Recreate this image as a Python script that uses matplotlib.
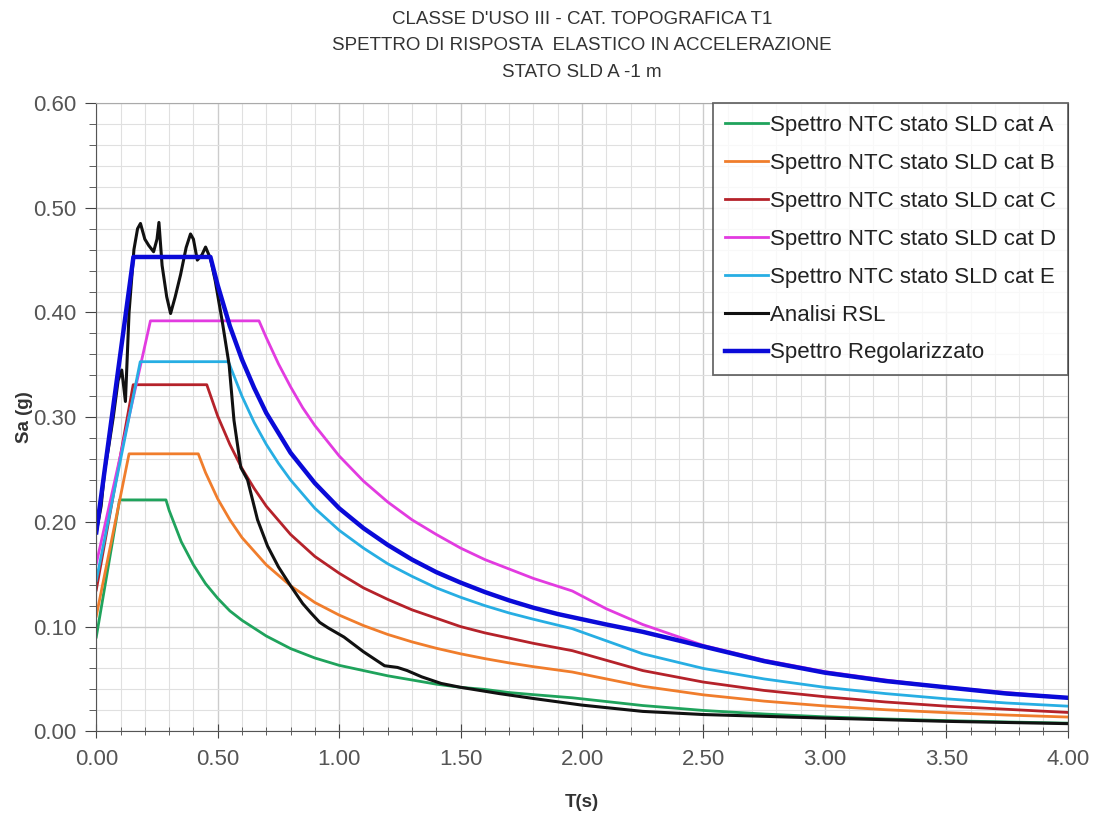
import matplotlib
matplotlib.use("Agg")
from matplotlib import pyplot as plt
from matplotlib.ticker import MultipleLocator, FormatStrFormatter

plt.rcParams['font.family'] = ['Liberation Sans', 'DejaVu Sans']

# spettro NTC cat A
t_a = [0, 0.096, 0.287, 0.30, 0.35, 0.40, 0.45, 0.50, 0.55, 0.60, 0.70, 0.80, 0.90, 1.00, 1.10, 1.20, 1.30, 1.40,
       1.50, 1.60, 1.70, 1.80, 1.96, 2.25, 2.50, 2.75, 3.00, 3.25, 3.50, 3.75, 4.00]
sa_a = [0.090, 0.221, 0.221, 0.211, 0.181, 0.159, 0.141, 0.127, 0.115, 0.106, 0.091, 0.079, 0.070, 0.063, 0.058, 0.053,
        0.049, 0.045, 0.042, 0.040, 0.037, 0.035, 0.032, 0.0246, 0.0199, 0.0165, 0.0138, 0.0118, 0.0102, 0.0089, 0.0078]

# cat B
t_b = [0, 0.135, 0.42, 0.45, 0.50, 0.55, 0.60, 0.70, 0.80, 0.90, 1.00, 1.10, 1.20, 1.30, 1.40, 1.50, 1.60, 1.70, 1.80,
       1.96, 2.25, 2.50, 2.75, 3.00, 3.25, 3.50, 3.75, 4.00]
sa_b = [0.110, 0.265, 0.265, 0.247, 0.222, 0.202, 0.185, 0.159, 0.139, 0.123, 0.111, 0.101, 0.0925, 0.0854, 0.0793,
        0.074, 0.0694, 0.0653, 0.0617, 0.0566, 0.043, 0.0348, 0.0288, 0.0242, 0.0206, 0.0178, 0.0155, 0.0136]

# cat C
t_c = [0, 0.152, 0.455, 0.50, 0.55, 0.60, 0.65, 0.70, 0.80, 0.90, 1.00, 1.10, 1.20, 1.30, 1.40, 1.50, 1.60, 1.70, 1.80,
       1.96, 2.25, 2.50, 2.75, 3.00, 3.25, 3.50, 3.75, 4.00]
sa_c = [0.135, 0.331, 0.331, 0.301, 0.274, 0.251, 0.232, 0.215, 0.188, 0.167, 0.151, 0.137, 0.126, 0.116, 0.108, 0.100,
        0.094, 0.089, 0.084, 0.077, 0.058, 0.047, 0.039, 0.033, 0.028, 0.024, 0.021, 0.018]

# cat D
t_d = [0, 0.223, 0.67, 0.70, 0.75, 0.80, 0.85, 0.90, 1.00, 1.10, 1.20, 1.30, 1.40, 1.50, 1.60, 1.70, 1.80, 1.96, 2.10,
       2.25, 2.50, 2.75, 3.00, 3.25, 3.50, 3.75, 4.00]
sa_d = [0.160, 0.392, 0.392, 0.376, 0.351, 0.329, 0.309, 0.292, 0.263, 0.239, 0.219, 0.202, 0.188, 0.175, 0.164, 0.155,
        0.146, 0.134, 0.117, 0.102, 0.082, 0.068, 0.057, 0.049, 0.042, 0.037, 0.032]

# cat E
t_e = [0, 0.181, 0.544, 0.60, 0.65, 0.70, 0.75, 0.80, 0.90, 1.00, 1.10, 1.20, 1.30, 1.40, 1.50, 1.60, 1.70, 1.80, 1.96,
       2.25, 2.50, 2.75, 3.00, 3.25, 3.50, 3.75, 4.00]
sa_e = [0.144, 0.353, 0.353, 0.320, 0.295, 0.274, 0.256, 0.240, 0.213, 0.192, 0.175, 0.160, 0.148, 0.137, 0.128, 0.120,
        0.113, 0.107, 0.098, 0.074, 0.060, 0.050, 0.042, 0.036, 0.031, 0.027, 0.024]

# analisi RSL
t_rsl = [0, 0.02, 0.035, 0.05, 0.07, 0.09, 0.105, 0.12, 0.135, 0.155, 0.17, 0.182, 0.20, 0.216, 0.236, 0.25, 0.258,
         0.271, 0.29, 0.306, 0.325, 0.347, 0.37, 0.388, 0.40, 0.416, 0.435, 0.45, 0.471, 0.49, 0.519, 0.547, 0.567,
         0.595, 0.623, 0.664, 0.705, 0.75, 0.80, 0.85, 0.884, 0.92, 0.953, 1.02, 1.10, 1.187, 1.24, 1.28, 1.34, 1.42,
         1.50, 1.66, 1.81, 2.00, 2.25, 2.50, 3.00, 3.50, 4.00]
sa_rsl = [0.19, 0.215, 0.25, 0.27, 0.30, 0.335, 0.345, 0.315, 0.40, 0.46, 0.48, 0.485, 0.47, 0.464, 0.458, 0.47, 0.486,
          0.445, 0.415, 0.399, 0.415, 0.436, 0.462, 0.475, 0.47, 0.45, 0.455, 0.4625, 0.451, 0.43, 0.391, 0.35, 0.297,
          0.252, 0.24, 0.202, 0.177, 0.157, 0.139, 0.122, 0.113, 0.104, 0.099, 0.09, 0.076, 0.0626, 0.061, 0.058,
          0.052, 0.0457, 0.042, 0.036, 0.031, 0.025, 0.019, 0.016, 0.0126, 0.0095, 0.0073]

# spettro regolarizzato
t_reg = [0, 0.153, 0.47, 0.50, 0.55, 0.60, 0.65, 0.70, 0.80, 0.90, 1.00, 1.10, 1.20, 1.30, 1.40, 1.50, 1.60, 1.70, 1.80,
         1.90, 2.00, 2.10, 2.25, 2.50, 2.75, 3.00, 3.25, 3.50, 3.75, 4.00]
sa_reg = [0.19, 0.453, 0.453, 0.426, 0.387, 0.355, 0.328, 0.304, 0.266, 0.237, 0.213, 0.194, 0.178, 0.164, 0.152, 0.142,
          0.133, 0.125, 0.118, 0.112, 0.107, 0.102, 0.095, 0.081, 0.067, 0.056, 0.048, 0.042, 0.036, 0.032]

titolo = "CLASSE D'USO III - CAT. TOPOGRAFICA T1\nSPETTRO DI RISPOSTA  ELASTICO IN ACCELERAZIONE\nSTATO SLD A -1 m"

fig = plt.figure(figsize=(10.94, 8.18), dpi=100)
ax = fig.add_axes([0.088, 0.106, 0.888, 0.768])

ax.plot(t_a, sa_a, color='#1fa35c', lw=2, label='Spettro NTC stato SLD cat A')
ax.plot(t_b, sa_b, color='#f07d2c', lw=2, label='Spettro NTC stato SLD cat B')
ax.plot(t_c, sa_c, color='#b5222a', lw=2, label='Spettro NTC stato SLD cat C')
ax.plot(t_d, sa_d, color='#e23be0', lw=2, label='Spettro NTC stato SLD cat D')
ax.plot(t_e, sa_e, color='#27aee3', lw=2, label='Spettro NTC stato SLD cat E')
ax.plot(t_rsl, sa_rsl, color='#111111', lw=2.2, label='Analisi RSL')
ax.plot(t_reg, sa_reg, color='#0a0ad8', lw=3.2, label='Spettro Regolarizzato')

ax.set_xlim(0, 4)
ax.set_ylim(0, 0.6)
ax.xaxis.set_major_locator(MultipleLocator(0.5))
ax.xaxis.set_minor_locator(MultipleLocator(0.1))
ax.yaxis.set_major_locator(MultipleLocator(0.1))
ax.yaxis.set_minor_locator(MultipleLocator(0.02))
ax.xaxis.set_major_formatter(FormatStrFormatter('%.2f'))
ax.yaxis.set_major_formatter(FormatStrFormatter('%.2f'))
ax.grid(which='major', color='#cccccc', lw=1)
ax.grid(which='minor', color='#e0e0e0', lw=0.8)
ax.set_axisbelow(True)
ax.tick_params(which='both', colors='#444444', labelcolor='#555555', labelsize=16)
ax.tick_params(axis='x', which='both', direction='inout', pad=8)
ax.tick_params(axis='x', which='major', length=10)
ax.tick_params(axis='x', which='minor', length=6)
ax.tick_params(axis='y', which='both', direction='out', pad=6)
ax.tick_params(axis='y', which='major', length=8)
ax.tick_params(axis='y', which='minor', length=5)
for s in ax.spines.values():
    s.set_color('#555555')
ax.spines['top'].set_color('#aaaaaa')

ax.set_xlabel('T(s)', fontsize=13.5, fontweight='bold', color='#333333', labelpad=17)
ax.set_ylabel('Sa (g)', fontsize=13.5, fontweight='bold', color='#333333', labelpad=0)
ax.set_title(titolo, fontsize=13.5, color='#333333', pad=19, linespacing=1.72)

leg = ax.legend(loc='upper right', fontsize=16, frameon=True, fancybox=False, borderaxespad=0,
                handlelength=1.9, handletextpad=0.1, labelspacing=0.76, borderpad=0.54)
leg.get_frame().set_edgecolor('#444444')
leg.get_frame().set_linewidth(1.3)
for txt in leg.get_texts():
    txt.set_color('#222222')

plt.savefig('out.png', dpi=100)
